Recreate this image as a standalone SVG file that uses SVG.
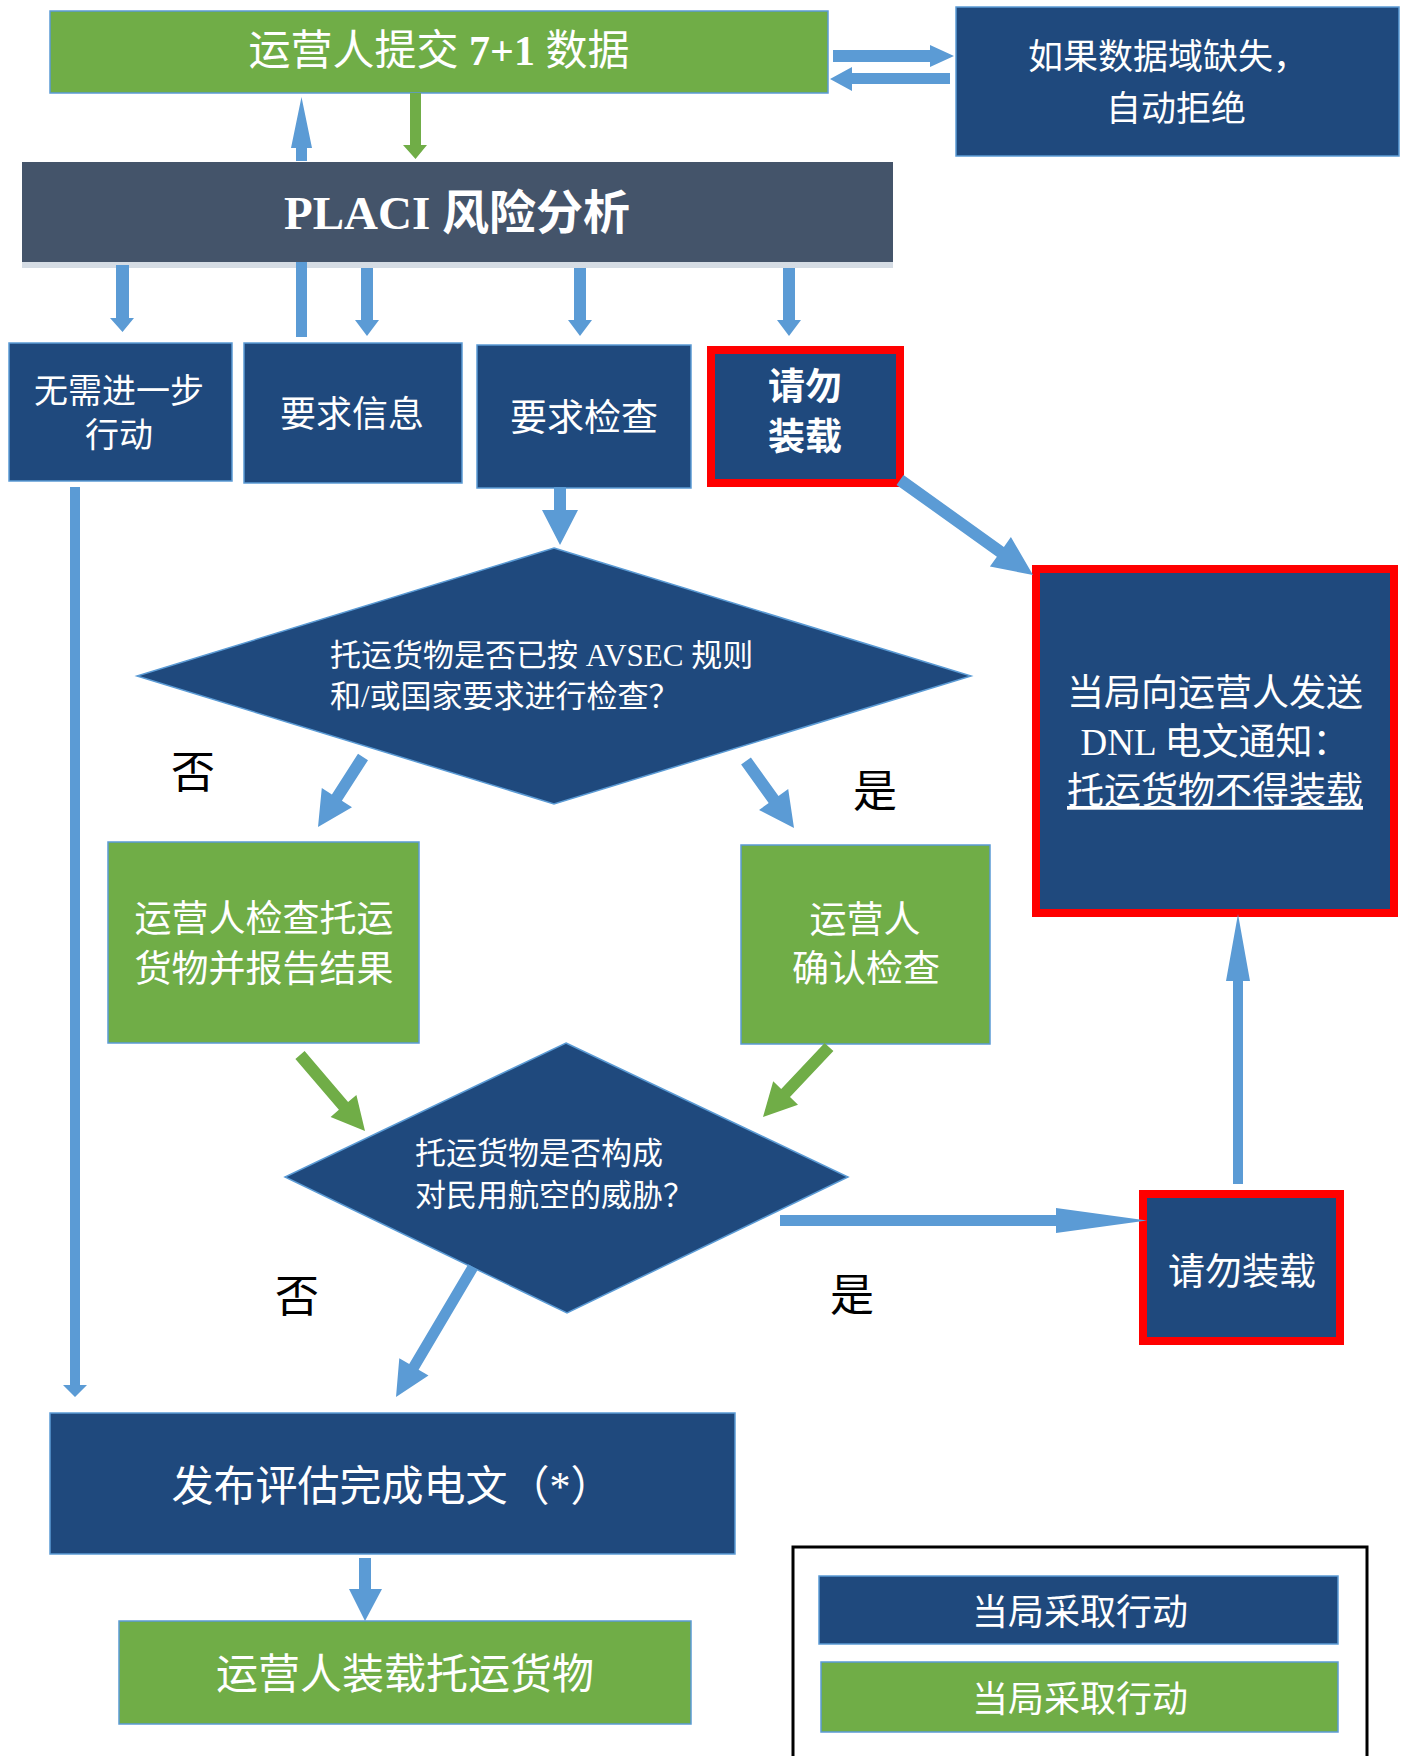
<svg xmlns="http://www.w3.org/2000/svg" width="1406" height="1756" viewBox="0 0 1406 1756">
<style>
.blue{fill:#1F497D;stroke:#5B9BD5;stroke-width:1.5}
.green{fill:#70AD47;stroke:#5B9BD5;stroke-width:1.5}
.red{fill:#1F497D;stroke:#FF0000;stroke-width:8}
.arr{fill:#5B9BD5}
.garr{fill:#70AD47}
text{font-family:'Liberation Serif','Noto Sans CJK SC',serif;fill:#FFFFFF}
.c{text-anchor:middle}
.lbl{font-family:'Noto Sans CJK SC',sans-serif;fill:#000000;font-size:44px;text-anchor:middle}
</style>
<rect width="1406" height="1756" fill="#FFFFFF"/>

<g id="n-submit">
<rect class="green" x="50" y="11" width="778" height="82"/>
<text class="c" x="439" y="65" font-size="42">运营人提交 <tspan font-weight="bold">7+1</tspan> 数据</text>
</g>
<g id="n-reject">
<rect class="blue" x="956" y="7" width="443" height="149"/>
<text class="c" x="1168" y="69" font-size="35">如果数据域缺失，</text>
<text class="c" x="1176" y="121" font-size="35">自动拒绝</text>
</g>
<g id="n-placi">
<rect x="22" y="262" width="871" height="6" fill="#D5DCE4"/>
<rect x="22" y="162" width="871" height="100" fill="#44546A"/>
<text class="c" x="457" y="229" font-size="47" font-weight="bold">PLACI 风险分析</text>
</g>
<g id="n-noaction">
<rect class="blue" x="9" y="343" width="223" height="138"/>
<text class="c" x="119" y="403" font-size="34">无需进一步</text>
<text class="c" x="119" y="447" font-size="34">行动</text>
</g>
<g id="n-reqinfo">
<rect class="blue" x="244" y="343" width="218" height="140"/>
<text class="c" x="352" y="427" font-size="36">要求信息</text>
</g>
<g id="n-reqscreen">
<rect class="blue" x="477" y="345" width="214" height="143"/>
<text class="c" x="584" y="431" font-size="37">要求检查</text>
</g>
<g id="n-dnl1">
<rect class="red" x="711" y="350" width="189" height="133"/>
<text class="c" x="805" y="400" font-size="37" font-weight="bold">请勿</text>
<text class="c" x="805" y="450" font-size="37" font-weight="bold">装载</text>
</g>
<g id="n-q1">
<polygon class="blue" points="554,548 971,676 554,804 137,676"/>
<text x="330" y="666" font-size="31">托运货物是否已按 AVSEC 规则</text>
<text x="330" y="707" font-size="31">和/或国家要求进行检查？</text>
</g>
<g id="n-dnlmsg">
<rect class="red" x="1036" y="569" width="358" height="344"/>
<text class="c" x="1215" y="706" font-size="37">当局向运营人发送</text>
<text class="c" x="1215" y="755" font-size="37">DNL 电文通知：</text>
<text class="c" x="1215" y="804" font-size="37" text-decoration="underline">托运货物不得装载</text>
</g>
<g id="n-opscreen">
<rect class="green" x="108" y="842" width="311" height="201"/>
<text class="c" x="264" y="932" font-size="37">运营人检查托运</text>
<text class="c" x="264" y="982" font-size="37">货物并报告结果</text>
</g>
<g id="n-opconfirm">
<rect class="green" x="741" y="845" width="249" height="199"/>
<text class="c" x="865" y="933" font-size="37">运营人</text>
<text class="c" x="866" y="982" font-size="37">确认检查</text>
</g>
<g id="n-q2">
<polygon class="blue" points="566,1043 848,1177 567,1313 285,1177"/>
<text x="415" y="1164" font-size="31">托运货物是否构成</text>
<text x="415" y="1206" font-size="31">对民用航空的威胁？</text>
</g>
<g id="n-dnl2">
<rect class="red" x="1143" y="1194" width="197" height="147"/>
<text class="c" x="1242" y="1285" font-size="37">请勿装载</text>
</g>
<g id="n-complete">
<rect class="blue" x="50" y="1413" width="685" height="141"/>
<text class="c" x="392" y="1501" font-size="42">发布评估完成电文（*）</text>
</g>
<g id="n-load">
<rect class="green" x="119" y="1621" width="572" height="103"/>
<text class="c" x="405" y="1689" font-size="42">运营人装载托运货物</text>
</g>
<g id="legend">
<rect x="793" y="1547" width="574" height="260" fill="none" stroke="#000000" stroke-width="3"/>
<rect class="blue" x="819" y="1576" width="519" height="68"/>
<text class="c" x="1080" y="1625" font-size="36">当局采取行动</text>
<rect class="green" x="821" y="1662" width="517" height="70"/>
<text class="c" x="1080" y="1712" font-size="36">当局采取行动</text>
</g>

<g id="labels">
<text class="lbl" x="193" y="788">否</text>
<text class="lbl" x="875" y="807">是</text>
<text class="lbl" x="297" y="1312">否</text>
<text class="lbl" x="852" y="1311">是</text>
</g>

<g id="connectors">
<polygon class="arr" points="833,50 930,50 930,45 954,56 930,67 930,62 833,62"/>
<polygon class="arr" points="950,73 852,73 852,67 830,79 852,91 852,84 950,84"/>
<polygon class="arr" points="296,161 296,148 291,148 301.5,97 312,148 307,148 307,161"/>
<rect class="arr" x="296" y="262" width="11" height="75"/>
<polygon class="garr" points="410,93 421,93 421,145 427,145 415.5,159 403,145 410,145"/>
<polygon class="arr" points="116,265 129,265 129,318 134,318 122.5,332 110,318 116,318"/>
<polygon class="arr" points="361,268 373,268 373,320 379,320 367,336 355,320 361,320"/>
<polygon class="arr" points="574,268 586,268 586,320 592,320 580,336 568,320 574,320"/>
<polygon class="arr" points="783,268 795,268 795,320 801,320 789,336 777,320 783,320"/>
<polygon class="arr" points="554,487 566,487 566,510 578,510 560,545 542,510 554,510"/>
<polygon class="arr" points="903.5,475.1 1003.9,546.9 1010.9,537.1 1033,575 989.9,566.5 996.9,556.7 896.5,484.9"/>
<polygon class="arr" points="358,753.8 331.9,794.4 321.8,787.9 318,827 352,807.3 341.9,800.8 368,760.2"/>
<polygon class="arr" points="750.9,757.5 778.5,796 788.2,789 794,828 759,810 768.7,803 741.1,764.5"/>
<polygon class="garr" points="304.6,1051.1 348.1,1102 356.4,1094.9 365,1131 330.6,1117 338.9,1109.8 295.4,1058.9"/>
<polygon class="garr" points="824.6,1042.9 781.2,1088.9 773.2,1081.3 763,1117 798,1104.7 790,1097.1 833.4,1051.1"/>
<polygon class="arr" points="780,1215 1056,1215 1056,1208 1147,1220.5 1056,1233 1056,1226 780,1226"/>
<polygon class="arr" points="1233,1184 1233,981 1226,981 1238,914 1250,981 1243,981 1243,1184"/>
<polygon class="arr" points="468.3,1264.2 409.2,1364.1 399.3,1358.2 396,1397 428.5,1375.6 418.6,1369.7 477.7,1269.8"/>
<polygon class="arr" points="70,487 80,487 80,1385 87,1385 75,1397 63,1385 70,1385"/>
<polygon class="arr" points="359,1558 371,1558 371,1589 382,1589 365,1621 349,1589 359,1589"/>
</g>
</svg>
